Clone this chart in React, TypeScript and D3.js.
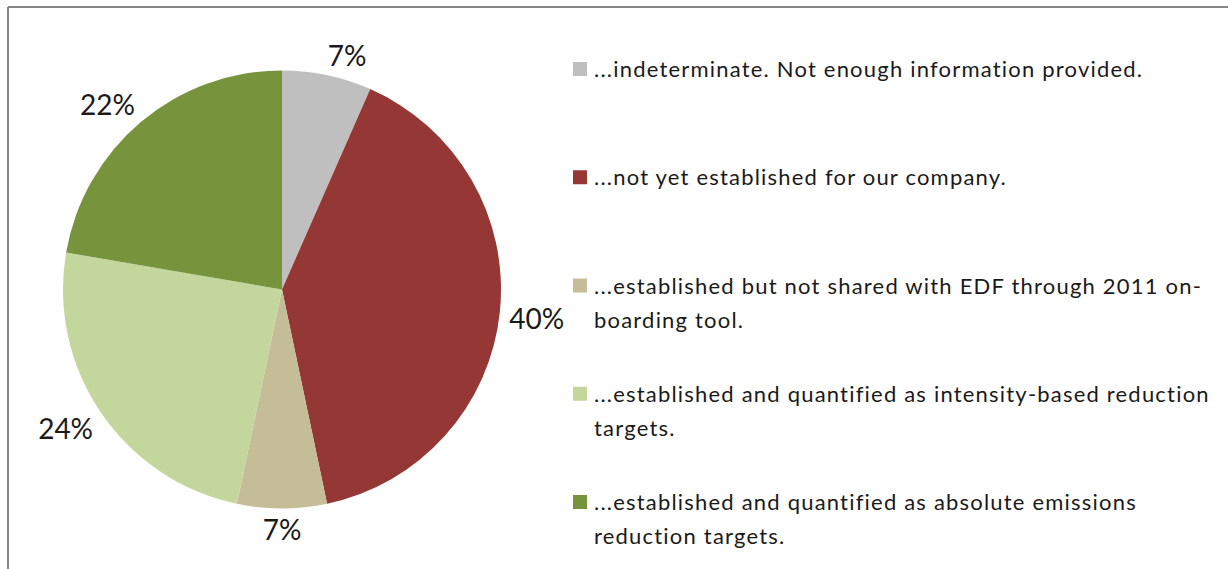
import React from 'react';
import * as d3 from 'd3';

const categories = [
    ['...indeterminate. Not enough information provided.'],
    ['...not yet established for our company.'],
    ['...established but not shared with EDF through 2011 on-', 'boarding tool.'],
    ['...established and quantified as intensity-based reduction', 'targets.'],
    ['...established and quantified as absolute emissions', 'reduction targets.'],
];
const values = [6.6, 40.1, 6.6, 24.4, 22.3];
const colors = ['#BFBFBF', '#953735', '#C4BD97', '#C3D69B', '#77933C'];

const width = 1228;
const height = 569;
const cx = 282;
const cy = 289.5;
const radius = 219;

const App = () => {
    const pie = d3.pie<number>().sort(null).value((d) => d);
    const arcs = pie(values);
    const arcGen = d3.arc<d3.PieArcDatum<number>>().innerRadius(0).outerRadius(radius);
    const anchorArc = d3.arc<d3.PieArcDatum<number>>().innerRadius(radius + 10).outerRadius(radius + 10);

    // nearest corner of the label box sits on the anchor point
    const labelPos = (a: d3.PieArcDatum<number>, text: string) => {
        const [ax, ay] = anchorArc.centroid(a);
        const mid = (a.startAngle + a.endAngle) / 2;
        const clamp = (v: number) => Math.max(-1, Math.min(1, v * 5));
        const hw = text.length * 9;
        const hh = 10;
        return [ax + clamp(Math.sin(mid)) * hw, ay + clamp(-Math.cos(mid)) * hh];
    };

    const rowY = d3.scaleLinear().domain([0, categories.length - 1]).range([77, 510]);

    return (
        <svg
            width={width}
            height={height}
            style={{ position: 'absolute', left: 0, top: 0, fontFamily: 'Lato, sans-serif' }}
        >
            <rect width={width} height={height} fill='#fff' />
            <line x1={8} y1={7} x2={width} y2={7} stroke='#868686' strokeWidth={2} />
            <line x1={8} y1={7} x2={8} y2={height} stroke='#868686' strokeWidth={2} />
            <g transform={`translate(${cx},${cy})`}>
                {arcs.map((a, i) => (
                    <path key={i} d={arcGen(a) || ''} fill={colors[i]} />
                ))}
                {arcs.map((a, i) => {
                    const label = `${Math.round(a.data)}%`;
                    const [x, y] = labelPos(a, label);
                    return (
                        <text
                            key={i}
                            x={x}
                            y={y}
                            textAnchor='middle'
                            dominantBaseline='central'
                            fontSize={28}
                            fill='#1a1a1a'
                        >
                            {label}
                        </text>
                    );
                })}
            </g>
            <g>
                {categories.map((lines, i) => (
                    <g key={i}>
                        <rect x={573} y={rowY(i) - 15} width={14} height={14} fill={colors[i]} />
                        <text
                            x={594}
                            y={rowY(i)}
                            fontSize={22}
                            letterSpacing={1.2}
                            fill='#1a1a1a'
                            style={{ fontVariantLigatures: 'none' }}
                        >
                            {lines.map((l, j) => (
                                <tspan key={j} x={594} dy={j === 0 ? 0 : 34}>
                                    {l}
                                </tspan>
                            ))}
                        </text>
                    </g>
                ))}
            </g>
        </svg>
    );
};

export default App;
